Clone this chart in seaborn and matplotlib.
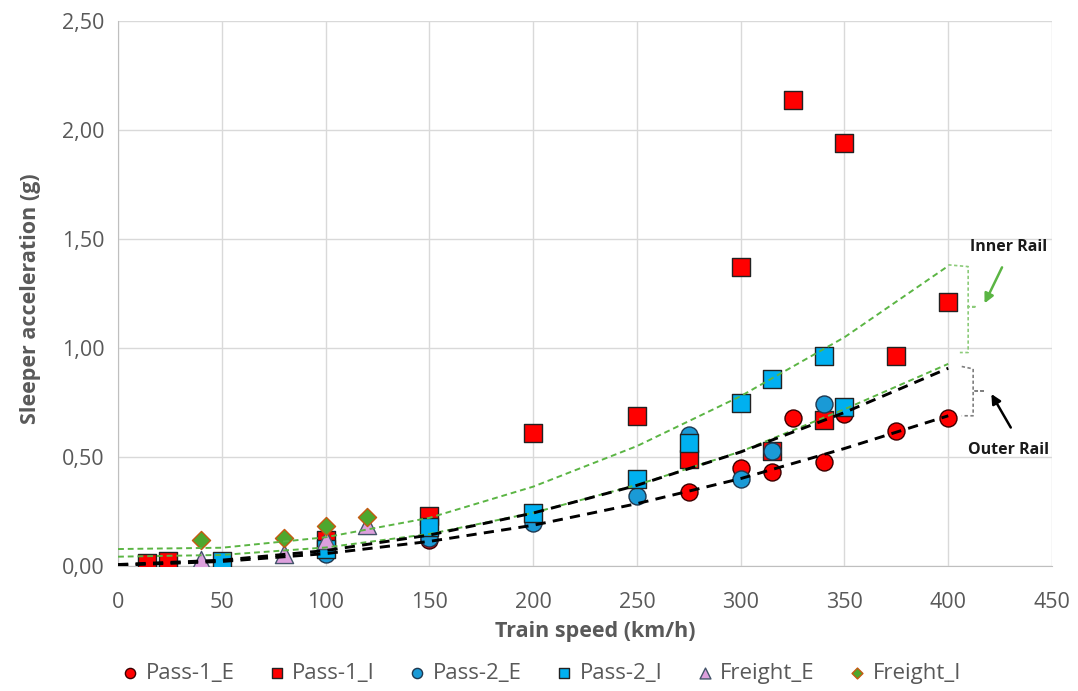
import matplotlib
matplotlib.use("Agg")
import matplotlib.pyplot as plt
from matplotlib.ticker import MultipleLocator, FuncFormatter
import seaborn as sns

# measured sleeper accelerations (g) vs train speed (km/h)
p1e_speed = [14, 24, 150, 275, 300, 315, 325, 340, 350, 375, 400]
p1e_acc = [0.005, 0.01, 0.12, 0.34, 0.45, 0.43, 0.68, 0.48, 0.70, 0.62, 0.68]

p1i_speed = [14, 24, 100, 150, 200, 250, 275, 300, 315, 325, 340, 350, 375, 400]
p1i_acc = [0.014, 0.024, 0.12, 0.23, 0.61, 0.69, 0.49, 1.37, 0.53, 2.14, 0.67, 1.94, 0.965, 1.21]

p2e_speed = [100, 150, 200, 250, 275, 300, 315, 340]
p2e_acc = [0.055, 0.13, 0.20, 0.32, 0.60, 0.40, 0.53, 0.745]

p2i_speed = [50, 100, 150, 200, 250, 275, 300, 315, 340, 350]
p2i_acc = [0.025, 0.08, 0.18, 0.245, 0.40, 0.567, 0.75, 0.858, 0.965, 0.732]

fe_speed = [40, 80, 100, 120]
fe_acc = [0.03, 0.056, 0.12, 0.19]

fi_speed = [40, 80, 100, 120]
fi_acc = [0.122, 0.13, 0.185, 0.228]

# trendlines, values
trend_speed = [0, 50, 100, 150, 200, 250, 300, 350, 400]
inner_hi = [0.079, 0.085, 0.133, 0.222, 0.365, 0.551, 0.780, 1.050, 1.377]
inner_lo = [0.044, 0.052, 0.086, 0.148, 0.245, 0.373, 0.526, 0.720, 0.928]
outer_hi = [0.008, 0.028, 0.072, 0.143, 0.244, 0.371, 0.524, 0.705, 0.908]
outer_lo = [0.005, 0.022, 0.058, 0.114, 0.188, 0.287, 0.402, 0.540, 0.690]

sns.set_style("white")
plt.rcParams['font.family'] = ['Open Sans', 'DejaVu Sans']

grey = '#595959'
green = '#5BB544'

fig, ax = plt.subplots(figsize=(10.78, 6.91), dpi=100)
fig.subplots_adjust(left=0.1095, right=0.9759, bottom=0.1805, top=0.9696)

series = [
    (p1e_speed, p1e_acc, 'Pass-1_E', 'o', '#FF0000', '#3A0000', 150),
    (p1i_speed, p1i_acc, 'Pass-1_I', 's', '#FF0000', '#222222', 150),
    (p2e_speed, p2e_acc, 'Pass-2_E', 'o', '#1A9AD6', '#1F3850', 150),
    (p2i_speed, p2i_acc, 'Pass-2_I', 's', '#00B0F0', '#222222', 150),
    (fe_speed, fe_acc, 'Freight_E', '^', '#DDA0DD', '#44546A', 170),
    (fi_speed, fi_acc, 'Freight_I', 'D', '#4EA72E', '#C55A11', 85),
]
for xs, ys, name, mk, fc, ec, size in series:
    sns.scatterplot(x=xs, y=ys, marker=mk, s=size, color=fc, edgecolor=ec,
                    linewidth=1, label=name, zorder=3, ax=ax)

for vals, col, lw, dash in [(inner_hi, green, 1.4, (3, 2)), (inner_lo, green, 1.4, (3, 2)),
                            (outer_hi, 'black', 2.1, (3.5, 2.5)), (outer_lo, 'black', 2.1, (3.5, 2.5))]:
    sns.lineplot(x=trend_speed, y=vals, color=col, lw=lw, linestyle=(0, dash),
                 zorder=4, legend=False, ax=ax)

# brackets and callouts on the right
ax.plot([400, 409.6, 409.6, 413.7, 409.6, 409.6, 405.6],
        [1.382, 1.374, 1.19, 1.19, 1.19, 0.98, 0.98],
        color='#8CCB7A', lw=1.2, ls=(0, (2, 1.5)), zorder=4)
ax.plot([406.5, 412, 412, 417.7, 412, 412, 406.5],
        [0.916, 0.905, 0.804, 0.804, 0.804, 0.69, 0.69],
        color='#7F7F7F', lw=1.2, ls=(0, (2, 1.5)), zorder=4)
ax.annotate('', xy=(416.9, 1.194), xytext=(426.5, 1.382),
            arrowprops=dict(arrowstyle='-|>', color=green, lw=1.8, mutation_scale=14))
ax.annotate('', xy=(420.1, 0.801), xytext=(430.8, 0.625),
            arrowprops=dict(arrowstyle='-|>', color='black', lw=1.8, mutation_scale=14))
ax.text(429.3, 1.465, 'Inner Rail', ha='center', va='center', fontsize=11.5,
        fontweight='bold', color='#1A1A1A')
ax.text(428.8, 0.533, 'Outer Rail', ha='center', va='center', fontsize=11.5,
        fontweight='bold', color='#1A1A1A')

ax.set_xlim(0, 450)
ax.set_ylim(0, 2.5)
ax.xaxis.set_major_locator(MultipleLocator(50))
ax.xaxis.set_minor_locator(MultipleLocator(10))
ax.yaxis.set_major_locator(MultipleLocator(0.5))
ax.yaxis.set_minor_locator(MultipleLocator(0.1))
ax.yaxis.set_major_formatter(FuncFormatter(lambda v, p: f"{v:.2f}".replace('.', ',')))
ax.grid(True, which='major', color='#D9D9D9', lw=1)
ax.set_axisbelow(True)
for side in ['top', 'right']:
    ax.spines[side].set_visible(False)
for side in ['left', 'bottom']:
    ax.spines[side].set_color('#BFBFBF')
ax.tick_params(which='major', direction='out', length=6, color='#BFBFBF',
               labelsize=15.5, labelcolor=grey)
ax.tick_params(axis='x', which='major', pad=12.5)
ax.tick_params(which='minor', direction='in', length=4, color='#BFBFBF')

ax.set_xlabel('Train speed (km/h)', fontsize=15.5, fontweight='bold', color=grey)
ax.xaxis.set_label_coords(0.511, -0.100)
ax.set_ylabel('Sleeper acceleration (g)', fontsize=15.5, fontweight='bold', color=grey)
ax.yaxis.set_label_coords(-0.0824, 0.49)

handles, labels = ax.get_legend_handles_labels()
ax.get_legend().remove()
fig.legend(handles, labels, loc='center', bbox_to_anchor=(0.502, 0.025), ncol=6,
           frameon=False, fontsize=16, labelcolor=grey, markerscale=0.6,
           handlelength=0.8, handletextpad=0.3, columnspacing=1.5)

fig.savefig('out.png', dpi=100)
